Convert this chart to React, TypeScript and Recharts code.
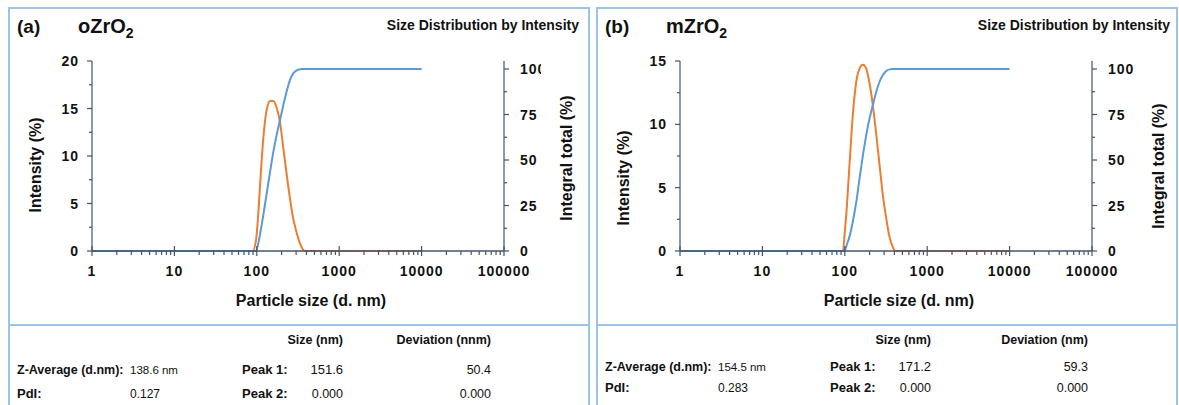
import React from 'react';
import { LineChart, Line, XAxis, YAxis } from 'recharts';

const FONT = '"Liberation Sans", Arial, Helvetica, sans-serif';
const AXIS = '#44546a';
const BORDER = '#9dc3e6';
const ORANGE = '#ed7d31';
const BLUE = '#5b9bd5';

const xMajor = [1, 10, 100, 1000, 10000, 100000];
const xMinor = [
  2, 3, 4, 5, 6, 7, 8, 9,
  20, 30, 40, 50, 60, 70, 80, 90,
  200, 300, 400, 500, 600, 700, 800, 900,
  2000, 3000, 4000, 5000, 6000, 7000, 8000, 9000,
  20000, 30000, 40000, 50000, 60000, 70000, 80000, 90000,
];
const integralTicks = [0, 12.5, 25, 37.5, 50, 62.5, 75, 87.5, 100];
const integralLabels = [0, 25, 50, 75, 100];

// (a) oZrO2
const sizeA = [1, 10, 50, 89, 98, 104, 109, 120, 132, 145, 159, 174, 191, 210, 231, 253, 277, 305, 334, 350, 384, 1000, 10000];
const intensityA = [0, 0, 0, 0, 1.2, 3.8, 6.6, 11.9, 14.9, 15.8, 15.8, 15.1, 13.6, 10.8, 8.0, 5.5, 3.4, 1.9, 0.8, 0.4, 0, 0, 0];
const integralA = [0, 0, 0, 0, 0, 4, 8.8, 19.8, 31.7, 43.6, 54.6, 63.7, 71.8, 80.2, 87.9, 94.0, 97.6, 99.3, 99.8, 100, 100, 100, 100];
const intensityTicksA = [0, 2.5, 5, 7.5, 10, 12.5, 15, 17.5, 20];
const intensityLabelsA = [0, 5, 10, 15, 20];

// (b) mZrO2
const sizeB = [1, 10, 50, 95, 100, 104, 114, 125, 138, 151, 166, 182, 200, 219, 241, 264, 290, 318, 349, 383, 412, 1000, 10000];
const intensityB = [0, 0, 0, 0, 1.5, 2.8, 6.8, 10.7, 13.4, 14.4, 14.7, 14.4, 13.2, 11.5, 9.2, 6.8, 4.4, 2.6, 1.1, 0.3, 0, 0, 0];
const integralB = [0, 0, 0, 0, 0, 2.5, 7.9, 16.1, 27.1, 39.9, 52.7, 63.7, 72.9, 80.2, 87.5, 93.0, 96.7, 98.9, 99.8, 100, 100, 100, 100];
const intensityTicksB = [0, 2.5, 5, 7.5, 10, 12.5, 15];
const intensityLabelsB = [0, 5, 10, 15];

const toRows = (size: number[], intensity: number[], integral: number[]) =>
  size.map((s, i) => ({ size: s, intensity: intensity[i], integral: integral[i] }));

const XTick = (p: any) => {
  const { x, y, payload } = p;
  const v = payload.value;
  const major = xMajor.indexOf(v) >= 0;
  return (
    <g>
      <line x1={x} x2={x} y1={major ? y - 5 : y} y2={y + (major ? 5 : 4)} stroke={AXIS} strokeWidth={1.2} />
      {major && (
        <text x={x} y={y + 25} textAnchor="middle" fontFamily={FONT} fontWeight="bold" fontSize={14} letterSpacing={1} fill="#111">
          {v}
        </text>
      )}
    </g>
  );
};

const leftTick = (labels: number[]) => (p: any) => {
  const { x, y, payload } = p;
  const v = payload.value;
  const major = labels.indexOf(v) >= 0;
  return (
    <g>
      <line x1={x - (major ? 5 : 3)} x2={x} y1={y} y2={y} stroke={AXIS} strokeWidth={1.2} />
      {major && (
        <text x={x - 13} y={y + 5} textAnchor="end" fontFamily={FONT} fontWeight="bold" fontSize={14} letterSpacing={1} fill="#111">
          {v}
        </text>
      )}
    </g>
  );
};

const rightTick = (clipId?: string, clipX?: number) => (p: any) => {
  const { x, y, payload } = p;
  const v = payload.value;
  const major = integralLabels.indexOf(v) >= 0;
  const clip = clipId && v === 100;
  return (
    <g>
      {clip && (
        <defs>
          <clipPath id={clipId}>
            <rect x={0} y={0} width={clipX} height={400} />
          </clipPath>
        </defs>
      )}
      <line x1={x} x2={x + (major ? 5 : 3)} y1={y} y2={y} stroke={AXIS} strokeWidth={1.2} />
      {major && (
        <text
          x={x + 16}
          y={y + 5}
          fontFamily={FONT}
          fontWeight="bold"
          fontSize={14}
          letterSpacing={1}
          fill="#111"
          clipPath={clip ? `url(#${clipId})` : undefined}
        >
          {v}
        </text>
      )}
    </g>
  );
};

const Txt = (props: {
  left?: number;
  right?: number;
  top: number;
  size?: number;
  bold?: boolean;
  children: React.ReactNode;
}) => {
  const { left, right, top, size = 12.5, bold, children } = props;
  const style: React.CSSProperties = {
    position: 'absolute',
    top,
    fontFamily: FONT,
    fontSize: size,
    fontWeight: bold ? 'bold' : 'normal',
    lineHeight: '16px',
    whiteSpace: 'nowrap',
    color: '#111',
  };
  if (right !== undefined) {
    style.left = right - 200;
    style.width = 200;
    style.textAlign = 'right';
  } else {
    style.left = left;
  }
  return <div style={style}>{children}</div>;
};

const VLabel = (props: { cx: number; cy: number; children: React.ReactNode }) => (
  <div
    style={{
      position: 'absolute',
      left: props.cx - 100,
      top: props.cy - 10,
      width: 200,
      height: 20,
      lineHeight: '20px',
      textAlign: 'center',
      transform: 'rotate(-90deg)',
      fontFamily: FONT,
      fontWeight: 'bold',
      fontSize: 16,
      color: '#111',
      whiteSpace: 'nowrap',
    }}
  >
    {props.children}
  </div>
);

interface PanelProps {
  offset: number;
  tag: string;
  name: string;
  rows: { size: number; intensity: number; integral: number }[];
  intensityMax: number;
  intensityTicks: number[];
  intensityLabels: number[];
  clipId?: string;
  clipX?: number;
  leftLabelY: number;
  rightLabelX: number;
  rightLabelY: number;
  titleRight: number;
  zAvg: string;
  pdi: string;
  peak1: string;
  dev1: string;
  devHeader: string;
  devRight: number;
  rowTops: number[];
}

const Panel = (p: PanelProps) => (
  <div style={{ position: 'absolute', left: p.offset, top: 0, width: 590, height: 405 }}>
    <div
      style={{
        position: 'absolute',
        left: 8,
        top: 7,
        width: 578,
        height: 420,
        border: `2px solid ${BORDER}`,
      }}
    />
    <div style={{ position: 'absolute', left: 8, top: 324, width: 582, height: 2, background: BORDER }} />

    <div style={{ position: 'absolute', left: 0, top: 0 }}>
      <LineChart width={588} height={325} data={p.rows} margin={{ top: 61, right: 0, bottom: 0, left: 0 }}>
        <XAxis
          dataKey="size"
          type="number"
          scale="log"
          domain={[1, 100000]}
          ticks={[...xMajor, ...xMinor]}
          interval={0}
          height={74}
          tickSize={0}
          tickMargin={0}
          tickLine={false}
          axisLine={{ stroke: AXIS, strokeWidth: 1.5 }}
          tick={XTick}
        />
        <YAxis
          yAxisId="left"
          orientation="left"
          type="number"
          domain={[0, p.intensityMax]}
          ticks={p.intensityTicks}
          interval={0}
          width={92}
          tickSize={0}
          tickMargin={0}
          tickLine={false}
          axisLine={{ stroke: AXIS, strokeWidth: 1.2 }}
          tick={leftTick(p.intensityLabels)}
        />
        <YAxis
          yAxisId="right"
          orientation="right"
          type="number"
          domain={[0, 104.4]}
          ticks={integralTicks}
          interval={0}
          width={84}
          tickSize={0}
          tickMargin={0}
          tickLine={false}
          axisLine={{ stroke: AXIS, strokeWidth: 1.2 }}
          tick={rightTick(p.clipId, p.clipX)}
        />
        <Line
          yAxisId="left"
          type="monotone"
          dataKey="intensity"
          stroke={ORANGE}
          strokeWidth={2}
          dot={false}
          isAnimationActive={false}
        />
        <Line
          yAxisId="right"
          type="monotone"
          dataKey="integral"
          stroke={BLUE}
          strokeWidth={2}
          dot={false}
          isAnimationActive={false}
        />
      </LineChart>
    </div>

    <div style={{ position: 'absolute', left: 17, top: 17, fontFamily: FONT, fontWeight: 'bold', fontSize: 19, lineHeight: '19px', color: '#111' }}>
      {p.tag}
    </div>
    <div style={{ position: 'absolute', left: 78, top: 16, fontFamily: FONT, fontWeight: 'bold', fontSize: 20, lineHeight: '20px', color: '#111' }}>
      {p.name}
      <sub style={{ fontSize: 14, lineHeight: 0, verticalAlign: -5 }}>2</sub>
    </div>
    <Txt right={p.titleRight} top={17} size={14} bold>
      Size Distribution by Intensity
    </Txt>

    <VLabel cx={36} cy={p.leftLabelY}>Intensity (%)</VLabel>
    <VLabel cx={p.rightLabelX} cy={p.rightLabelY}>Integral total (%)</VLabel>
    <div
      style={{
        position: 'absolute',
        left: 211,
        top: 291,
        width: 200,
        lineHeight: '20px',
        textAlign: 'center',
        fontFamily: FONT,
        fontWeight: 'bold',
        fontSize: 16,
        color: '#111',
        whiteSpace: 'nowrap',
      }}
    >
      Particle size (d. nm)
    </div>

    <Txt right={343} top={p.rowTops[0]} bold>Size (nm)</Txt>
    <Txt right={p.devRight} top={p.rowTops[0]} bold>{p.devHeader}</Txt>

    <Txt left={17} top={p.rowTops[1]} size={12.5} bold>Z-Average (d.nm):</Txt>
    <Txt left={130} top={p.rowTops[1]} size={11.5}>{p.zAvg}</Txt>
    <Txt left={242} top={p.rowTops[1]} size={13} bold>Peak 1:</Txt>
    <Txt right={343} top={p.rowTops[1]} size={13}>{p.peak1}</Txt>
    <Txt right={p.devRight} top={p.rowTops[1]}>{p.dev1}</Txt>

    <Txt left={17} top={p.rowTops[2]} size={13} bold>PdI:</Txt>
    <Txt left={130} top={p.rowTops[2]} size={12}>{p.pdi}</Txt>
    <Txt left={242} top={p.rowTops[2]} size={13} bold>Peak 2:</Txt>
    <Txt right={343} top={p.rowTops[2]}>0.000</Txt>
    <Txt right={p.devRight} top={p.rowTops[2]}>0.000</Txt>
  </div>
);

export default function App() {
  return (
    <div style={{ position: 'absolute', left: 0, top: 0, width: 1179, height: 405, background: '#fff', overflow: 'hidden' }}>
      <Panel
        offset={0}
        tag="(a)"
        name="oZrO"
        rows={toRows(sizeA, intensityA, integralA)}
        intensityMax={20}
        intensityTicks={intensityTicksA}
        intensityLabels={intensityLabelsA}
        clipId="clip100a"
        clipX={541}
        leftLabelY={165}
        rightLabelX={567}
        rightLabelY={158}
        titleRight={579}
        zAvg="138.6 nm"
        pdi="0.127"
        peak1="151.6"
        dev1="50.4"
        devHeader="Deviation (nnm)"
        devRight={491}
        rowTops={[332, 362, 386]}
      />
      <Panel
        offset={588}
        tag="(b)"
        name="mZrO"
        rows={toRows(sizeB, intensityB, integralB)}
        intensityMax={15}
        intensityTicks={intensityTicksB}
        intensityLabels={intensityLabelsB}
        leftLabelY={178}
        rightLabelX={571}
        rightLabelY={166}
        titleRight={582}
        zAvg="154.5 nm"
        pdi="0.283"
        peak1="171.2"
        dev1="59.3"
        devHeader="Deviation (nm)"
        devRight={500}
        rowTops={[332, 359, 380]}
      />
    </div>
  );
}
